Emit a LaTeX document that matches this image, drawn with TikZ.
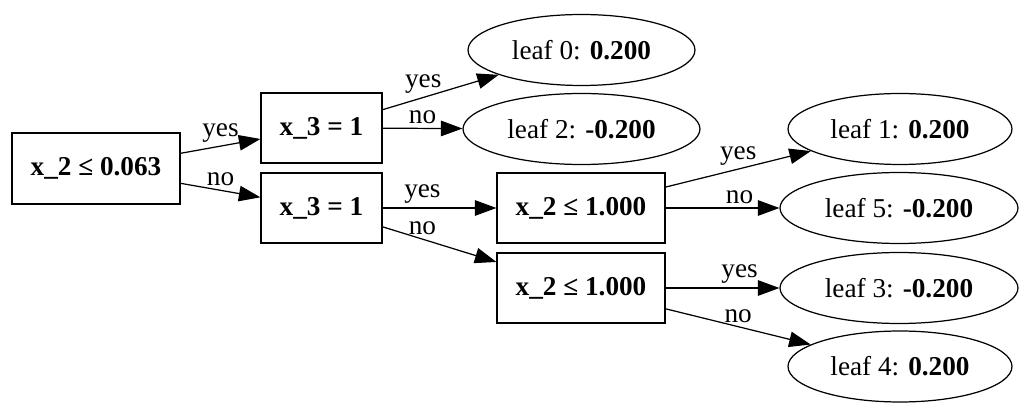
\documentclass[tikz,border=0pt]{standalone}
\usepackage{fontspec}
\setmainfont{Liberation Serif}
\usetikzlibrary{shapes,arrows.meta}

\begin{document}
\begin{tikzpicture}[x=0.02cm, y=-0.02cm, ->, >={Triangle[length=0.43cm, width=0.31cm]}, line width=0.7pt, font=\fontsize{15.5}{18}\selectfont, split node/.style={rectangle, draw, inner sep=0pt, minimum height=1.4cm, font=\fontsize{15.5}{18}\selectfont\bfseries}, leaf node/.style={ellipse, draw, inner sep=0pt, minimum height=1.42cm}, lbl/.style={inner sep=2pt, above}]
\useasboundingbox (0,0) rectangle (1024,418);
\node[split node, minimum width=3.36cm, minimum height=1.42cm] (root) at (96,168.5) {x\_2 ≤ 0.063};
\node[split node, minimum width=2.42cm] (s1) at (321.5,128) {x\_3 = 1};
\node[split node, minimum width=2.42cm] (s2) at (321.5,208) {x\_3 = 1};
\node[split node, minimum width=3.36cm] (s3) at (581,208) {x\_2 ≤ 1.000};
\node[split node, minimum width=3.36cm] (s4) at (581,288) {x\_2 ≤ 1.000};
\node[leaf node, minimum width=4.54cm] (l0) at (581.5,50) {leaf 0: \textbf{0.200}};
\node[leaf node, minimum width=4.74cm] (l2) at (581.5,129) {leaf 2: \textbf{-0.200}};
\node[leaf node, minimum width=4.48cm] (l1) at (900,129) {leaf 1: \textbf{0.200}};
\node[leaf node, minimum width=4.76cm] (l5) at (899,208) {leaf 5: \textbf{-0.200}};
\node[leaf node, minimum width=4.76cm] (l3) at (899,288) {leaf 3: \textbf{-0.200}};
\node[leaf node, minimum width=4.48cm] (l4) at (900,366.5) {leaf 4: \textbf{0.200}};
\path
(root) edge node[lbl] {yes} (s1)
(root) edge node[lbl] {no} (s2)
(s1) edge node[lbl, pos=0.35] {yes} (l0)
(s1) edge node[lbl] {no} (l2)
(s2) edge node[lbl, pos=0.35] {yes} (s3)
(s2) edge node[lbl, pos=0.35] {no} (s4)
(s3) edge node[lbl] {yes} (l1)
(s3) edge node[lbl, pos=0.65] {no} (l5)
(s4) edge node[lbl, pos=0.65] {yes} (l3)
(s4) edge node[lbl] {no} (l4);
\end{tikzpicture}
\end{document}
